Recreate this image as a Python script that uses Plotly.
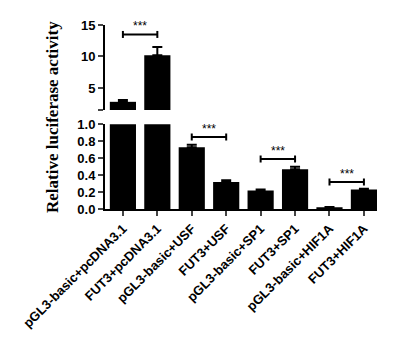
import plotly.graph_objects as go

categories = ["pGL3-basic+pcDNA3.1", "FUT3+pcDNA3.1", "pGL3-basic+USF", "FUT3+USF",
              "pGL3-basic+SP1", "FUT3+SP1", "pGL3-basic+HIF1A", "FUT3+HIF1A"]
means = [2.8, 10.2, 0.73, 0.32, 0.22, 0.47, 0.02, 0.23]
errors = [0.3, 1.3, 0.03, 0.02, 0.01, 0.03, 0.005, 0.01]

# significance comparisons: (left index, right index, bracket height, panel)
comparisons = [(0, 1, 13.5, "y2"), (2, 3, 0.85, "y"), (4, 5, 0.59, "y"), (6, 7, 0.32, "y")]
sig_label = "***"

lower_ticks = [0.0, 0.2, 0.4, 0.6, 0.8, 1.0]
upper_ticks = [1.5, 5, 10, 15]
upper_ticktext = ["", "5", "10", "15"]

fig = go.Figure()
for ax in ["y", "y2"]:
    fig.add_trace(go.Bar(
        x=list(range(len(categories))), y=means, yaxis=ax,
        marker=dict(color="black", line=dict(width=0)), width=0.76,
        error_y=dict(type="data", array=errors, arrayminus=[0] * len(errors),
                     color="black", thickness=2, width=5),
        showlegend=False,
    ))

def b(t):
    return f"<b>{t}</b>" if t else ""

tickfont = dict(family="Arial, Liberation Sans", size=13, color="black")
fig.update_layout(
    width=399, height=345, paper_bgcolor="white", plot_bgcolor="white",
    margin=dict(l=105, r=22, t=25, b=136),
    xaxis=dict(range=[-0.52, 7.38], tickvals=list(range(len(categories))),
               ticktext=[b(c) for c in categories],
               tickangle=-45, ticks="outside", ticklen=5, tickwidth=2, showline=True,
               linecolor="black", linewidth=2, showgrid=False, zeroline=False,
               tickfont=dict(family="Arial, Liberation Sans", size=13, color="black"),
               anchor="y"),
    yaxis=dict(domain=[0, 0.46], range=[0, 1.0], tickvals=lower_ticks,
               ticktext=[b(f"{v:.1f}") for v in lower_ticks], ticks="outside", ticklen=5,
               tickwidth=2, showline=True, linecolor="black", linewidth=2, showgrid=False,
               zeroline=False, tickfont=tickfont, anchor="x"),
    yaxis2=dict(domain=[0.538, 1], range=[1.5, 15], tickvals=upper_ticks,
                ticktext=[b(t) for t in upper_ticktext],
                ticks="outside", ticklen=5, tickwidth=2, showline=True, linecolor="black",
                linewidth=2, showgrid=False, zeroline=False, tickfont=tickfont, anchor="x"),
)

for a, c, h, ax in comparisons:
    fig.add_shape(type="line", xref="x", yref=ax, x0=a, x1=c, y0=h, y1=h,
                  line=dict(color="black", width=2))
    for xx in (a, c):
        fig.add_shape(type="line", xref="x", yref=ax, x0=xx, x1=xx, ysizemode="pixel",
                      yanchor=h, y0=-3.5, y1=3.5, line=dict(color="black", width=2))
    fig.add_annotation(x=(a + c) / 2, y=h, xref="x", yref=ax, text=sig_label, showarrow=False,
                       yanchor="bottom", yshift=-1,
                       font=dict(family="Arial, Liberation Sans", size=12, color="black"))

fig.add_annotation(xref="paper", yref="paper", x=-0.195, y=0.5, text="<b>Relative luciferase activity</b>",
                   textangle=-90, showarrow=False, xanchor="center", yanchor="middle",
                   font=dict(family="Liberation Serif, Times New Roman", size=17, color="black"))

fig.write_html("out.html")
